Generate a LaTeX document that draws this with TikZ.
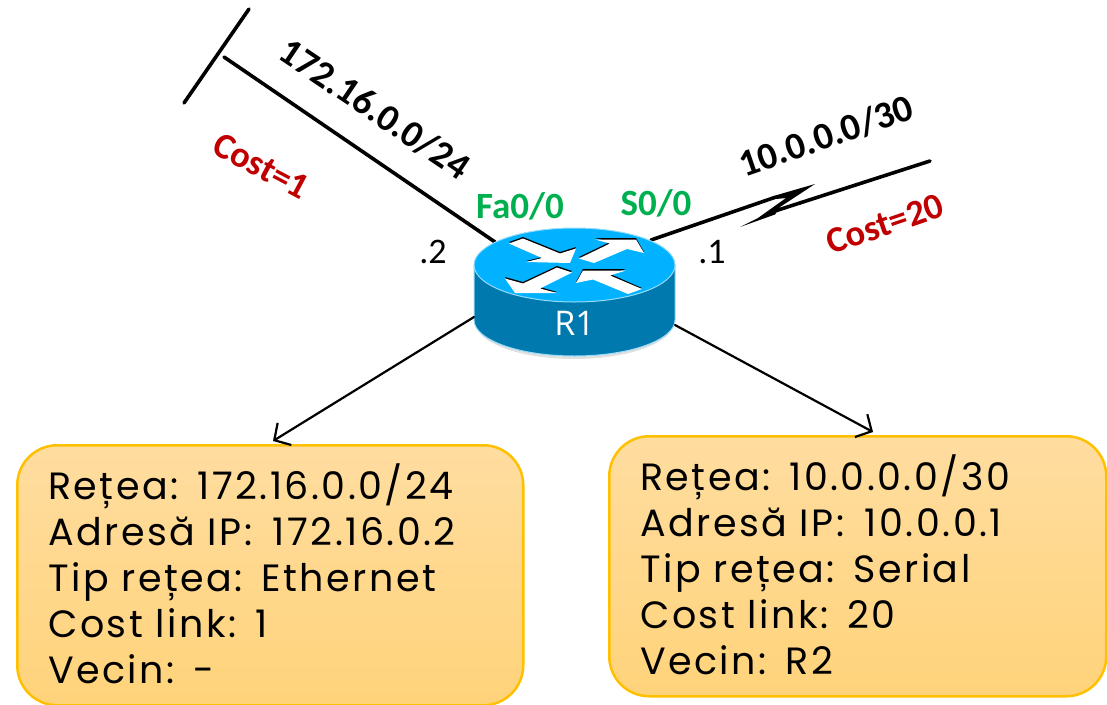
\documentclass[tikz,border=0pt]{standalone}
\usepackage{fontspec}
\setmainfont{Carlito}
\newfontfamily\boxfont[LetterSpace=6.5,WordSpace=1.4,Kerning=Off]{Poppins}
\newfontfamily\routerfont{Open Sans}
\usepackage{xcolor}
\usetikzlibrary{arrows.meta, positioning}
\definecolor{routertop}{RGB}{0, 178, 255}
\definecolor{routerside}{RGB}{0, 121, 174}
\definecolor{routeredge}{RGB}{150, 220, 250}
\definecolor{costred}{RGB}{192, 0, 0}
\definecolor{portgreen}{RGB}{0, 176, 80}
\definecolor{boxedge}{RGB}{255, 192, 0}
\definecolor{boxlight}{RGB}{255, 221, 160}
\definecolor{boxdark}{RGB}{255, 211, 122}
\tikzset{
	netlabel/.style={font=\fontsize{38}{42}\selectfont\bfseries, black},
	costlabel/.style={font=\fontsize{36.5}{40}\selectfont\bfseries, costred},
	portlabel/.style={font=\fontsize{37}{40}\selectfont\bfseries, portgreen},
	hostlabel/.style={font=\fontsize{36}{40}\selectfont, black},
	infobox/.style={draw=boxedge, line width=2.5pt, rounded corners=40pt, top color=boxlight, bottom color=boxdark,
		anchor=north west, align=left, inner xsep=31pt, inner ysep=0pt,
		font=\boxfont\fontsize{38}{46}\selectfont},
	netline/.style={line width=3.6pt, black},
	linkarrow/.style={line width=2.2pt, black, -{Straight Barb[length=12pt,width=26pt,line width=2.2pt]}},
}
\begin{document}
\begin{tikzpicture}[line cap=round, line join=round, x=1pt, y=-1pt]
	\useasboundingbox (0,0) rectangle (1107,704);
	
	% end points of the links
	\coordinate (barA) at (249,9);
	\coordinate (barB) at (184,103);
	\coordinate (lanEnd) at (224,57);
	\coordinate (lanPort) at (495,242);
	\coordinate (serPort) at (651,240);
	\coordinate (serBendA) at (776,197);
	\coordinate (serBendB) at (775,211);
	\coordinate (serEnd) at (930,161);
	\coordinate (leftOut) at (474,317);
	\coordinate (rightOut) at (675,325);
	\coordinate (leftIn) at (273,441);
	\coordinate (rightIn) at (873,432);
	
	% links
	\draw[netline] (barA)--(barB);
	\draw[netline] (lanEnd)--(lanPort);
	\draw[netline] (serPort)--(serBendA);
	\draw[netline] (serBendB)--(serEnd);
	\fill[black] (776,195.3)--(815,184)--(780,207)--(775,214.5)--(740,227)--(758,218)--(786,198)--(776,199)--cycle;
	
	% router
	\fill[black!12] (476,323) arc[start angle=180, end angle=0, x radius=98.5, y radius=36] -- cycle;
	\draw[routeredge, fill=routerside, line width=1pt] (474,265)--(474,320) arc[start angle=180, end angle=0, x radius=100.5, y radius=36]--(675,265)--cycle;
	\draw[routeredge, fill=routertop, line width=1pt] (574.5,265) ellipse[x radius=100.5, y radius=37];
	\node[text=white, font=\routerfont\fontsize{34}{36}\selectfont] (R1) at (574.5,323) {R1};
	
	% arrows on top of the router
	\fill[black] (509,242)--(523,237)--(560,252)--(576,247)--(570,262)--(526,261)--(542,257)--cycle;
	\fill[black] (579,257)--(610,242)--(595,238)--(636,238)--(644,252)--(627,248)--(594,262)--cycle;
	\fill[black] (557,266)--(572,271)--(540,287)--(557,292)--(515,292)--(505,277)--(523,282)--cycle;
	\fill[black] (642,288)--(628,293)--(593,278)--(576,282)--(583,269)--(626,269)--(610,274)--cycle;
	\fill[white] (509,243.5)--(523,238.5)--(560,253.5)--(576,248.5)--(570,263)--(526,262)--(542,258)--cycle;
	\fill[white] (579,258.5)--(610,243.5)--(595,239.5)--(636,239.5)--(644,253)--(627,249)--(594,263)--cycle;
	\fill[white] (557,267.5)--(572,272.5)--(540,288.5)--(557,293)--(515,293)--(505,278.5)--(523,283.5)--cycle;
	\fill[white] (642,289)--(628,294)--(593,279.5)--(576,283)--(583,270.5)--(626,270.5)--(610,275.5)--cycle;
	
	% labels of the links
	\node[netlabel, rotate=-34] (lanNet) at (375,109) {172.16.0.0/24};
	\node[netlabel, rotate=19] (serNet) at (826,136) {10.0.0.0/30};
	\node[costlabel, rotate=-28] (lanCost) at (261,166) {Cost=1};
	\node[costlabel, rotate=19] (serCost) at (885,224) {Cost=20};
	\node[portlabel] (lanName) at (520,206) {Fa0/0};
	\node[portlabel] (serName) at (656,203) {S0/0};
	\node[hostlabel] (lanHost) at (433,252) {.2};
	\node[hostlabel] (serHost) at (712,252) {.1};
	
	% info boxes
	\node[infobox, text width=444pt, minimum height=260pt] (lanInfo) at (16,444) {Rețea: 172.16.0.0/24\\Adresă IP:\hspace{8pt} 172.16.0.2\\Tip rețea: Ethernet\\Cost link: 1\\Vecin: -\rule[-4pt]{0pt}{1pt}};
	\node[infobox, text width=435pt, minimum height=260pt] (serInfo) at (608,435) {Rețea: 10.0.0.0/30\\Adresă IP:\hspace{8pt} 10.0.0.1\\Tip rețea: Serial\\Cost link: 20\\Vecin: R2\rule[-4pt]{0pt}{1pt}};
	
	\draw[linkarrow] (leftOut)--(leftIn);
	\draw[linkarrow] (rightOut)--(rightIn);
\end{tikzpicture}
\end{document}
